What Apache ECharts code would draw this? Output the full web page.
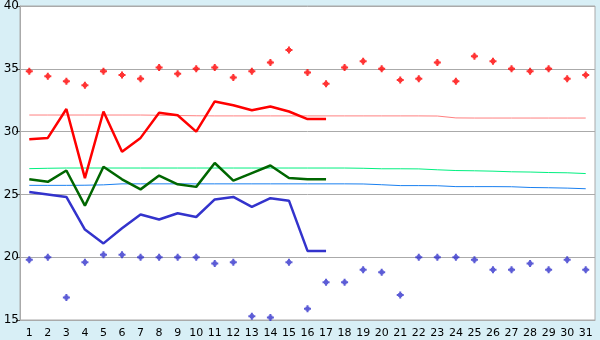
<!DOCTYPE html>
<html>
<head>
<meta charset="utf-8">
<script src="https://cdn.jsdelivr.net/npm/echarts@6/dist/echarts.min.js"></script>
<style>html,body{margin:0;padding:0;background:#d8eff6;}#c{width:600px;height:340px;}</style>
</head>
<body>
<div id="c"></div>
<script>
const days = ['1','2','3','4','5','6','7','8','9','10','11','12','13','14','15','16','17','18','19','20','21','22','23','24','25','26','27','28','29','30','31'];
const yTicks = {min: 15, max: 40, interval: 5};
const redDots = [34.8,34.4,34.0,33.7,34.8,34.5,34.2,35.1,34.6,35.0,35.1,34.3,34.8,35.5,36.5,34.7,33.8,35.1,35.6,35.0,34.1,34.2,35.5,34.0,36.0,35.6,35.0,34.8,35.0,34.2,34.5];
const blueDots = [19.8,20.0,16.8,19.6,20.2,20.2,20.0,20.0,20.0,20.0,19.5,19.6,15.3,15.2,19.6,15.9,18.0,18.0,19.0,18.8,17.0,20.0,20.0,20.0,19.8,19.0,19.0,19.5,19.0,19.8,19.0];
const redLine = [29.4,29.5,31.8,26.3,31.6,28.4,29.5,31.5,31.3,30.0,32.4,32.1,31.7,32.0,31.6,31.0,31.0];
const greenLine = [26.2,26.0,26.9,24.1,27.2,26.2,25.4,26.5,25.8,25.6,27.5,26.1,26.7,27.3,26.3,26.2,26.2];
const blueLine = [25.2,25.0,24.8,22.2,21.1,22.3,23.4,23.0,23.5,23.2,24.6,24.8,24.0,24.7,24.5,20.5,20.5];
const redAvg = [31.32,31.32,31.32,31.32,31.32,31.32,31.32,31.3,31.28,31.26,31.25,31.25,31.25,31.25,31.25,31.25,31.25,31.25,31.25,31.25,31.25,31.25,31.24,31.09,31.08,31.08,31.08,31.08,31.08,31.08,31.08];
const greenAvg = [27.05,27.08,27.1,27.1,27.1,27.1,27.1,27.1,27.1,27.1,27.1,27.1,27.1,27.1,27.1,27.1,27.1,27.1,27.08,27.04,27.04,27.03,26.96,26.9,26.88,26.85,26.8,26.78,26.74,26.72,26.66];
const blueAvg = [25.72,25.72,25.72,25.73,25.76,25.84,25.84,25.84,25.84,25.84,25.84,25.84,25.84,25.84,25.84,25.84,25.84,25.84,25.83,25.77,25.7,25.7,25.69,25.62,25.62,25.62,25.61,25.55,25.53,25.5,25.45];

const star = 'path://M2.5,0 L4.5,0 L4.5,1.5 L5.5,1.5 L5.5,2.5 L7,2.5 L7,4.5 L5.5,4.5 L5.5,5.5 L4.5,5.5 L4.5,7 L2.5,7 L2.5,5.5 L1.5,5.5 L1.5,4.5 L0,4.5 L0,2.5 L1.5,2.5 L1.5,1.5 L2.5,1.5 Z';
const chart = echarts.init(document.getElementById('c'), null, {renderer: 'canvas'});
function thin(data, color) {
  return {type: 'line', data: data, symbol: 'none', lineStyle: {color: color, width: 1}, animation: false, z: 2};
}
function thick(data, color) {
  return {type: 'line', data: data, symbol: 'none', lineStyle: {color: color, width: 2.5}, animation: false, z: 3};
}
function dots(data, color) {
  return {type: 'scatter', data: data, symbol: star, symbolSize: 7, itemStyle: {color: color}, animation: false, z: 4};
}
chart.setOption({
  backgroundColor: '#d8eff6',
  animation: false,
  grid: {left: 20, right: 5, top: 5, bottom: 20, show: true, backgroundColor: '#ffffff', borderColor: '#aaaaaa', borderWidth: 1},
  xAxis: {
    type: 'category', data: days, boundaryGap: true,
    axisLine: {lineStyle: {color: '#aaaaaa'}},
    axisTick: {alignWithLabel: true, length: 5, lineStyle: {color: '#555555'}},
    axisLabel: {color: '#000', fontFamily: 'DejaVu Sans', fontSize: 11, margin: 8, interval: 0},
    splitLine: {show: false}
  },
  yAxis: {
    type: 'value', min: yTicks.min, max: yTicks.max, interval: yTicks.interval,
    axisLine: {show: true, lineStyle: {color: '#aaaaaa'}},
    axisTick: {show: true, length: 4, lineStyle: {color: '#555555'}},
    axisLabel: {color: '#000', fontFamily: 'DejaVu Sans', fontSize: 12, margin: 1},
    splitLine: {lineStyle: {color: '#aaaaaa', width: 1}}
  },
  series: [
    thin(redAvg, '#ff8080'),
    thin(greenAvg, '#00f080'),
    thin(blueAvg, '#1a80f0'),
    thick(redLine, '#ff0000'),
    thick(greenLine, '#006600'),
    thick(blueLine, '#3333cc'),
    dots(redDots, '#ff0000'),
    dots(blueDots, '#3333cc')
  ]
});
</script>
</body>
</html>
